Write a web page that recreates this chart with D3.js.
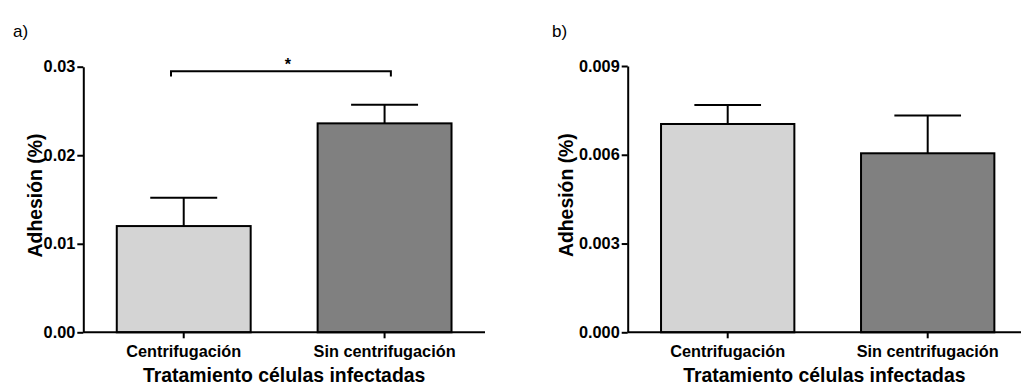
<!DOCTYPE html>
<html>
<head>
<meta charset="utf-8">
<script src="https://cdn.jsdelivr.net/npm/d3@7"></script>
<style>
  html, body { margin: 0; padding: 0; background: #fff; }
  svg { display: block; font-family: "Liberation Sans", Arial, sans-serif; }
</style>
</head>
<body>
<svg id="chart" width="1021" height="385"></svg>
<script>
// Treatment groups and colours
const categories = ["Centrifugación", "Sin centrifugación"];
const barColors = ["#d4d4d4", "#808080"];

// Panel a: mean adhesion (%) and SEM
const meansA = [0.0120, 0.0236];
const semA = [0.0032, 0.0021];
const ticksA = [0.00, 0.01, 0.02, 0.03];
const tickLabelsA = ["0.00", "0.01", "0.02", "0.03"];

// Panel b: mean adhesion (%) and SEM
const meansB = [0.00704, 0.00605];
const semB = [0.00064, 0.00128];
const ticksB = [0.000, 0.003, 0.006, 0.009];
const tickLabelsB = ["0.000", "0.003", "0.006", "0.009"];

// Significance bracket for panel a
const bracketA = { from: 0, to: 1, level: 0.0295, drop: 0.0006, label: "*" };

const svg = d3.select("#chart");

function panel(opts) {
  const g = svg.append("g");
  const x = d3.scaleBand()
    .domain(categories)
    .range([opts.left, opts.right])
    .paddingInner(1 / 3)
    .paddingOuter(1 / 6);
  const y = d3.scaleLinear()
    .domain([0, opts.max])
    .range([opts.bottom, opts.top]);

  // bars
  g.selectAll("rect.bar")
    .data(opts.means)
    .join("rect")
    .attr("class", "bar")
    .attr("x", (d, i) => x(categories[i]))
    .attr("y", d => y(d))
    .attr("width", x.bandwidth())
    .attr("height", d => y(0) - y(d))
    .attr("fill", (d, i) => barColors[i])
    .attr("stroke", "#000")
    .attr("stroke-width", 2);

  // upper error bars
  const cap = x.bandwidth() / 2;
  opts.means.forEach((m, i) => {
    const cx = x(categories[i]) + x.bandwidth() / 2;
    g.append("line")
      .attr("x1", cx).attr("x2", cx)
      .attr("y1", y(m)).attr("y2", y(m + opts.sem[i]))
      .attr("stroke", "#000").attr("stroke-width", 2);
    g.append("line")
      .attr("x1", cx - cap / 2).attr("x2", cx + cap / 2)
      .attr("y1", y(m + opts.sem[i])).attr("y2", y(m + opts.sem[i]))
      .attr("stroke", "#000").attr("stroke-width", 2);
  });

  // y axis
  const yAxis = d3.axisLeft(y)
    .tickValues(opts.ticks)
    .tickFormat((d, i) => opts.tickLabels[i])
    .tickSize(6)
    .tickPadding(2)
    .tickSizeOuter(0);
  const ya = g.append("g")
    .attr("transform", `translate(${opts.left},0)`)
    .call(yAxis);
  ya.select(".domain").attr("stroke-width", 2);
  ya.selectAll(".tick line").attr("stroke-width", 2);
  ya.selectAll(".tick text")
    .attr("font-size", 16.3)
    .attr("font-weight", "bold")
    .attr("font-family", "Liberation Sans, Arial, sans-serif")
    .attr("fill", "#000");

  // x axis
  const xAxis = d3.axisBottom(x)
    .tickSize(6)
    .tickPadding(7)
    .tickSizeOuter(0);
  const xa = g.append("g")
    .attr("transform", `translate(0,${opts.bottom})`)
    .call(xAxis);
  xa.select(".domain")
    .attr("d", `M${opts.left},0H${opts.axisEnd}`)
    .attr("stroke-width", 2);
  xa.selectAll(".tick line").attr("stroke-width", 2);
  xa.selectAll(".tick text")
    .attr("font-size", 16.3)
    .attr("font-weight", "bold")
    .attr("font-family", "Liberation Sans, Arial, sans-serif")
    .attr("fill", "#000");

  // axis titles
  g.append("text")
    .attr("x", (opts.left + opts.axisEnd) / 2)
    .attr("y", opts.bottom + 49.5)
    .attr("text-anchor", "middle")
    .attr("font-size", 19.4)
    .attr("font-weight", "bold")
    .text("Tratamiento células infectadas");

  g.append("text")
    .attr("transform", `translate(${opts.left - opts.titleOffset},${(opts.top + opts.bottom) / 2 - 4}) rotate(-90)`)
    .attr("text-anchor", "middle")
    .attr("font-size", 19.4)
    .attr("font-weight", "bold")
    .text("Adhesión (%)");

  // panel letter
  g.append("text")
    .attr("x", opts.letterX)
    .attr("y", 36.5)
    .attr("font-size", 17)
    .text(opts.letter);

  return { g, x, y };
}

const a = panel({
  left: 83.3, right: 485, axisEnd: 485, top: 66.7, bottom: 332.3,
  max: 0.03, means: meansA, sem: semA, ticks: ticksA, tickLabels: tickLabelsA,
  letter: "a)", letterX: 13, titleOffset: 41.6
});

const b = panel({
  left: 627.7, right: 1027.7, axisEnd: 1021, top: 66, bottom: 332.3,
  max: 0.009, means: meansB, sem: semB, ticks: ticksB, tickLabels: tickLabelsB,
  letter: "b)", letterX: 552, titleOffset: 54.4
});

// significance bracket between the two groups in panel a
{
  const bw = a.x.bandwidth();
  const x1 = a.x(categories[bracketA.from]) + bw * 0.405;
  const x2 = a.x(categories[bracketA.to]) + bw * 0.547;
  const yTop = a.y(bracketA.level);
  const yEnd = a.y(bracketA.level - bracketA.drop);
  a.g.append("path")
    .attr("d", `M${x1},${yEnd}V${yTop}H${x2}V${yEnd}`)
    .attr("fill", "none")
    .attr("stroke", "#000")
    .attr("stroke-width", 2);
  a.g.append("text")
    .attr("x", (x1 + x2) / 2 + 7)
    .attr("y", yTop - 1.5)
    .attr("text-anchor", "middle")
    .attr("font-size", 16)
    .attr("font-weight", "bold")
    .text(bracketA.label);
}
</script>
</body>
</html>
